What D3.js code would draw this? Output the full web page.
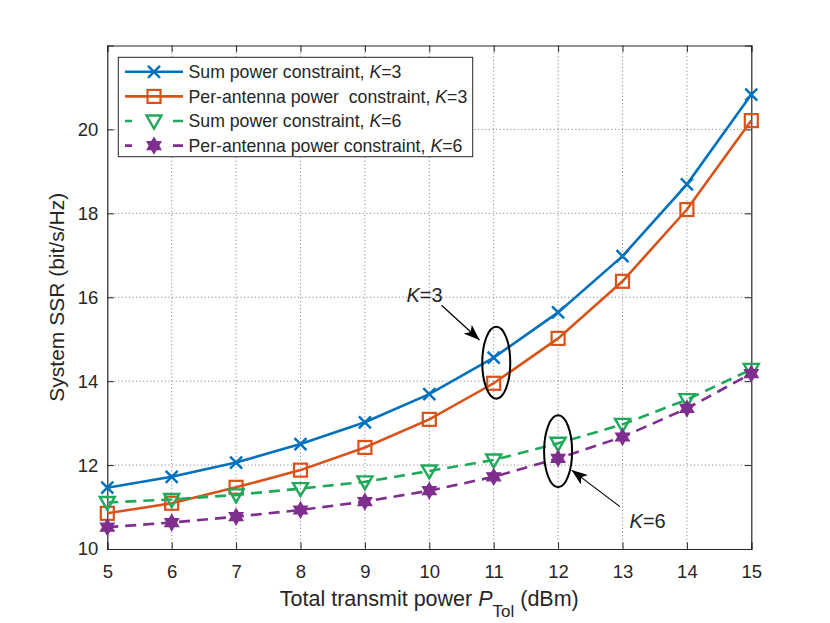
<!DOCTYPE html>
<html>
<head>
<meta charset="utf-8">
<script src="https://cdn.jsdelivr.net/npm/d3@7"></script>
<style>
  body { margin: 0; background: #fff; }
  text { font-family: "Liberation Sans", Arial, Helvetica, sans-serif; fill: #262626; }
</style>
</head>
<body>
<script>
// data
var powerDbm = [5, 6, 7, 8, 9, 10, 11, 12, 13, 14, 15];
var sumK3 = [11.46, 11.72, 12.06, 12.50, 13.02, 13.69, 14.56, 15.64, 16.98, 18.69, 20.83];
var perK3 = [10.85, 11.09, 11.47, 11.88, 12.42, 13.09, 13.95, 15.02, 16.38, 18.09, 20.21];
var sumK6 = [11.11, 11.18, 11.29, 11.44, 11.60, 11.86, 12.12, 12.52, 12.97, 13.56, 14.28];
var perK6 = [10.52, 10.63, 10.77, 10.93, 11.13, 11.39, 11.72, 12.16, 12.67, 13.35, 14.18];
var xTicks = [5, 6, 7, 8, 9, 10, 11, 12, 13, 14, 15];
var yTicks = [10, 12, 14, 16, 18, 20];
var seriesNames = ["Sum power constraint, ", "Per-antenna power  constraint, ",
                   "Sum power constraint, ", "Per-antenna power constraint, "];
var seriesK = ["3", "3", "6", "6"];

/**
 *
 * @param {*} width
 * @param {*} height
 */
function appendSVG(width, height) {
    return d3.select("body")
        .append("svg")
        .attr("width", width)
        .attr("height", height)
        .style("background", "#fff");
}

/**
 *
 * @param {*} g
 * @param {*} kind
 * @param {*} color
 */
function drawMarker(g, kind, color) {
    if (kind == "x") {
        g.append("path").attr("d", "M-6,-6L6,6M-6,6L6,-6")
            .attr("stroke", color).attr("stroke-width", 2.5).attr("fill", "none");
    } else if (kind == "square") {
        g.append("rect").attr("x", -6.5).attr("y", -6.5).attr("width", 13).attr("height", 13)
            .attr("stroke", color).attr("stroke-width", 2.2).attr("fill", "none");
    } else if (kind == "triangle") {
        g.append("path").attr("d", "M-7.5,-5.5L7.5,-5.5L0,7.5Z")
            .attr("stroke", color).attr("stroke-width", 2.4).attr("fill", "none")
            .attr("stroke-linejoin", "miter");
    } else {
        var r = 8, pts = [];
        for (var i = 0; i < 12; i++) {
            var a = Math.PI / 2 + i * Math.PI / 6;
            var rr = (i % 2 == 0) ? r : r * 0.58;
            pts.push([rr * Math.cos(a), -rr * Math.sin(a)]);
        }
        g.append("path").attr("d", "M" + pts.join("L") + "Z")
            .attr("stroke", color).attr("stroke-width", 1.2).attr("fill", color);
    }
}

function drawChart() {
    var svg = appendSVG(830, 623);
    var left = 107.3, right = 751.3, top = 45.5, bottom = 549;

    var x = d3.scaleLinear().domain([5, 15]).range([left, right]);
    var y = d3.scaleLinear().domain([10, 22]).range([bottom, top]);

    // grid
    var grid = svg.append("g").attr("stroke", "#7a7a7a").attr("stroke-width", 1)
        .attr("stroke-dasharray", "1,2.6");
    grid.selectAll(".gx").data(xTicks.slice(1, -1)).enter().append("line")
        .attr("x1", d => x(d)).attr("x2", d => x(d)).attr("y1", top).attr("y2", bottom);
    grid.selectAll(".gy").data(yTicks.slice(1)).enter().append("line")
        .attr("y1", d => y(d)).attr("y2", d => y(d)).attr("x1", left).attr("x2", right);

    // axes with inward ticks on all sides
    var xAxis = d3.axisBottom(x).tickValues(xTicks).tickSize(-6.5).tickPadding(16);
    var yAxis = d3.axisLeft(y).tickValues(yTicks).tickSize(-6.5).tickPadding(9);
    var gx = svg.append("g").attr("transform", "translate(0," + bottom + ")").call(xAxis);
    var gy = svg.append("g").attr("transform", "translate(" + left + ",0)").call(yAxis);
    var gxt = svg.append("g").attr("transform", "translate(0," + top + ")")
        .call(d3.axisTop(x).tickValues(xTicks).tickSize(-6.5).tickFormat(""));
    var gyr = svg.append("g").attr("transform", "translate(" + right + ",0)")
        .call(d3.axisRight(y).tickValues(yTicks).tickSize(-6.5).tickFormat(""));
    [gx, gy, gxt, gyr].forEach(function (g) {
        g.selectAll("path").attr("stroke", "#262626").attr("stroke-width", 1.2);
        g.selectAll("line").attr("stroke", "#262626").attr("stroke-width", 1);
        g.selectAll("text").style("font-size", "18.5px").attr("fill", "#262626")
            .style("font-family", "'Liberation Sans', Arial, sans-serif");
    });

    // series
    var series = [
        { v: sumK3, color: "#0072BD", marker: "x", dash: null },
        { v: perK3, color: "#D95319", marker: "square", dash: null },
        { v: sumK6, color: "#1FA95B", marker: "triangle", dash: "11,7" },
        { v: perK6, color: "#7E2F8E", marker: "hex", dash: "11,7" }
    ];
    var line = d3.line().x(d => x(d[0])).y(d => y(d[1]));
    series.forEach(function (s) {
        var pts = powerDbm.map((p, i) => [p, s.v[i]]);
        svg.append("path").datum(pts).attr("d", line)
            .attr("fill", "none").attr("stroke", s.color).attr("stroke-width", 2.6)
            .attr("stroke-dasharray", s.dash);
        pts.forEach(function (p) {
            var g = svg.append("g").attr("transform", "translate(" + x(p[0]) + "," + y(p[1]) + ")");
            drawMarker(g, s.marker, s.color);
        });
    });

    // annotations: ellipses, arrows, labels (data units)
    var defs = svg.append("defs");
    defs.append("marker").attr("id", "head").attr("viewBox", "0 0 16 12")
        .attr("refX", 16).attr("refY", 6).attr("markerWidth", 16).attr("markerHeight", 12)
        .attr("markerUnits", "userSpaceOnUse").attr("orient", "auto")
        .append("path").attr("d", "M0,0L16,6L0,12L4,6Z").attr("fill", "#000");

    var ellipses = [[11.04, 14.44], [12.0, 12.33]];
    ellipses.forEach(function (e) {
        svg.append("ellipse").attr("cx", x(e[0])).attr("cy", y(e[1]))
            .attr("rx", 14).attr("ry", 36)
            .attr("fill", "none").attr("stroke", "#000").attr("stroke-width", 2);
    });
    var arrows = [[10.19, 15.81, 10.78, 14.98], [12.96, 11.01, 12.21, 11.88]];
    arrows.forEach(function (a) {
        svg.append("line").attr("x1", x(a[0])).attr("y1", y(a[1]))
            .attr("x2", x(a[2])).attr("y2", y(a[3]))
            .attr("stroke", "#000").attr("stroke-width", 1.2)
            .attr("marker-end", "url(#head)");
    });
    var labels = [[9.645, 15.89, "3"], [13.11, 10.5, "6"]];
    labels.forEach(function (l) {
        var t = svg.append("text").attr("x", x(l[0])).attr("y", y(l[1]))
            .style("font-size", "20px").attr("fill", "#000");
        t.append("tspan").style("font-style", "italic").text("K");
        t.append("tspan").text("=" + l[2]);
    });

    // axis labels
    var xl = svg.append("text").attr("x", (left + right) / 2).attr("y", 606)
        .style("text-anchor", "middle").style("font-size", "21.5px");
    xl.append("tspan").text("Total transmit power ");
    xl.append("tspan").style("font-style", "italic").text("P");
    xl.append("tspan").attr("dy", 11).style("font-size", "17px").text("Tol");
    xl.append("tspan").attr("dy", -11).text(" (dBm)");

    svg.append("text")
        .attr("transform", "translate(64," + ((top + bottom) / 2) + ") rotate(-90)")
        .style("text-anchor", "middle").style("font-size", "21px")
        .text("System SSR (bit/s/Hz)");

    // legend
    var lg = svg.append("g");
    lg.append("rect").attr("x", 118.3).attr("y", 57.3).attr("width", 354.4).attr("height", 99.4)
        .attr("fill", "#fff").attr("stroke", "#262626").attr("stroke-width", 1);
    series.forEach(function (s, i) {
        var cy = 71.8 + i * 24.6;
        lg.append("line").attr("x1", 125).attr("x2", 183).attr("y1", cy).attr("y2", cy)
            .attr("stroke", s.color).attr("stroke-width", 2.6)
            .attr("stroke-dasharray", s.dash ? "7,41,10" : null);
        drawMarker(lg.append("g").attr("transform", "translate(154," + cy + ")"), s.marker, s.color);
        var t = lg.append("text").attr("x", 188.5).attr("y", cy + 6.3)
            .style("font-size", "17.7px").attr("fill", "#000");
        t.append("tspan").text(seriesNames[i]).attr("xml:space", "preserve");
        t.append("tspan").style("font-style", "italic").text("K");
        t.append("tspan").text("=" + seriesK[i]);
    });
}

drawChart();
</script>
</body>
</html>
